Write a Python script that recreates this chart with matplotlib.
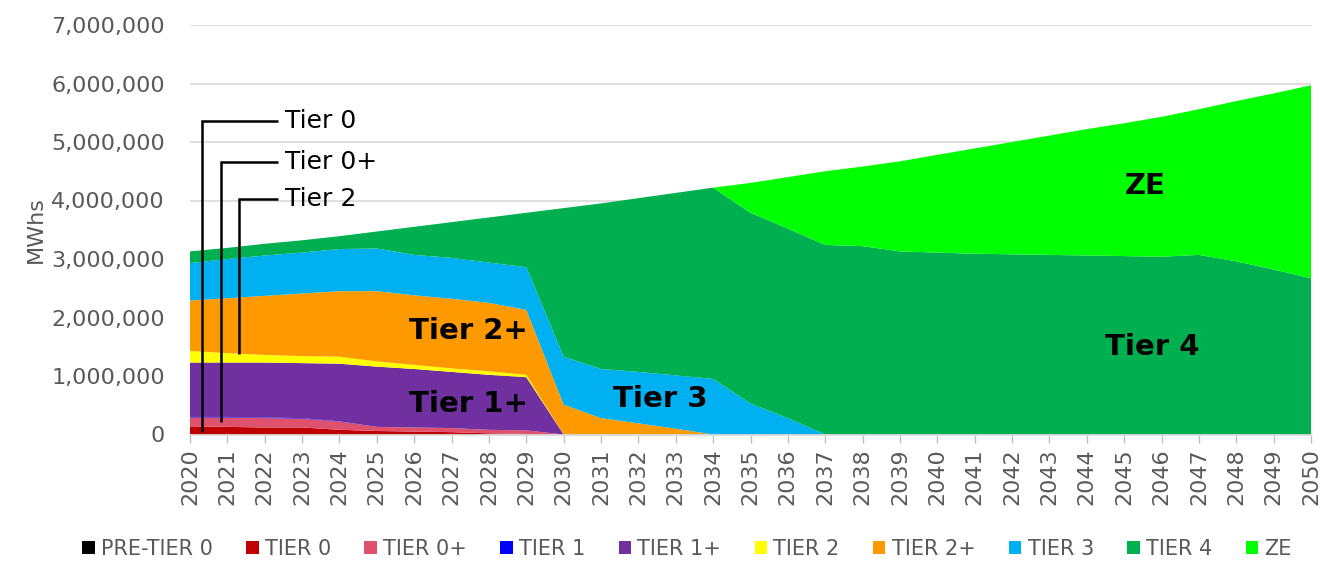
import numpy as np
import matplotlib.pyplot as plt
from matplotlib.ticker import FuncFormatter
from matplotlib.patches import Patch

# Data (millions of MWh)
years = list(range(2020, 2051))

pre_tier0 = [0.0] * 31
tier0 = [0.14, 0.13, 0.12, 0.12, 0.08, 0.06, 0.05, 0.04, 0.02, 0.01] + [0.0] * 21
tier0p = [0.15, 0.16, 0.16, 0.15, 0.14, 0.07, 0.07, 0.07, 0.06, 0.06] + [0.0] * 21
tier1 = [0.01, 0.01, 0.01, 0.01, 0.005] + [0.0] * 26
tier1p = [0.93, 0.93, 0.94, 0.94, 0.985, 1.03, 1.00, 0.96, 0.94, 0.91] + [0.0] * 21
tier2 = [0.20, 0.16, 0.13, 0.12, 0.12, 0.09, 0.07, 0.06, 0.06, 0.04] + [0.0] * 21
tier2p = [0.86, 0.94, 1.01, 1.07, 1.12, 1.20, 1.19, 1.19, 1.17, 1.11,
          0.51, 0.28, 0.19, 0.10] + [0.0] * 17
tier3 = [0.64, 0.67, 0.69, 0.70, 0.72, 0.73, 0.69, 0.70, 0.69, 0.73,
         0.82, 0.84, 0.88, 0.91, 0.95, 0.53, 0.28] + [0.0] * 14
tier4 = [0.20, 0.19, 0.20, 0.21, 0.22, 0.29, 0.48, 0.61, 0.77, 0.93,
         2.54, 2.83, 2.97, 3.12, 3.27, 3.26, 3.24, 3.24, 3.22, 3.13,
         3.11, 3.09, 3.08, 3.07, 3.06, 3.05, 3.04, 3.07, 2.96, 2.82, 2.67]
ze = [0.0] * 15 + [0.51, 0.88, 1.26, 1.36, 1.54, 1.67, 1.80, 1.92, 2.04,
                   2.16, 2.27, 2.39, 2.49, 2.74, 3.01, 3.30]

labels = ["PRE-TIER 0", "TIER 0", "TIER 0+", "TIER 1", "TIER 1+",
          "TIER 2", "TIER 2+", "TIER 3", "TIER 4", "ZE"]
colors = ["#000000", "#C00000", "#DF516D", "#0000FF", "#7030A0",
          "#FFFF00", "#FF9900", "#00B0F0", "#00B050", "#00FF00"]

series = [pre_tier0, tier0, tier0p, tier1, tier1p, tier2, tier2p, tier3, tier4, ze]
series = [np.array(s) * 1e6 for s in series]

grey = "#595959"

fig = plt.figure(figsize=(13.26, 5.62), dpi=100)
ax = fig.add_axes([190 / 1326, 1 - 434.5 / 562, (1311 - 190) / 1326, (434.5 - 25) / 562])

ax.stackplot(years, *series, colors=colors, linewidth=0)

ax.set_xlim(2020, 2050)
ax.set_ylim(0, 7e6)
ax.set_xticks(years)
ax.set_xticklabels([str(y) for y in years], rotation=90)
ax.set_yticks(np.arange(0, 7e6 + 1, 1e6))
ax.yaxis.set_major_formatter(FuncFormatter(lambda v, p: f"{int(v):,}"))
ax.tick_params(axis="x", colors="#BFBFBF", labelcolor=grey, labelsize=16,
               length=6, width=1, pad=4)
ax.tick_params(axis="y", length=0, labelcolor=grey, labelsize=16, pad=18)
ax.grid(axis="y", color="#D9D9D9", linewidth=1.2)
ax.set_axisbelow(True)
for s in ["top", "right", "left"]:
    ax.spines[s].set_visible(False)
ax.spines["bottom"].set_color("#D9D9D9")
ax.spines["bottom"].set_linewidth(1.2)
ax.set_ylabel("MWhs", color=grey, fontsize=16, labelpad=4)

# in-area labels
lab_kw = dict(ha="center", va="center", fontsize=21, fontweight="bold", color="black")
ax.text(2027.44, 1.77e6, "Tier 2+", **lab_kw)
ax.text(2027.44, 0.52e6, "Tier 1+", **lab_kw)
ax.text(2032.59, 0.61e6, "Tier 3", **lab_kw)
ax.text(2045.76, 1.50e6, "Tier 4", **lab_kw)
ax.text(2045.57, 4.24e6, "ZE", **lab_kw)

# callouts for thin layers
callouts = [("Tier 0", 2020.33, 0.04e6, 5.36e6),
            ("Tier 0+", 2020.82, 0.22e6, 4.66e6),
            ("Tier 2", 2021.31, 1.37e6, 4.02e6)]
for txt, xv, ybot, ytop in callouts:
    ax.plot([xv, xv, 2022.35], [ybot, ytop, ytop], color="black", lw=1.8,
            solid_capstyle="butt", solid_joinstyle="miter", clip_on=False)
    ax.text(2022.55, ytop, txt, ha="left", va="center", fontsize=18, color="black")

handles = [Patch(facecolor=c, edgecolor="none") for c in colors]
fig.legend(handles, labels, loc="center", bbox_to_anchor=(0.518, 1 - 549 / 562),
           ncol=10, frameon=False, fontsize=15, labelcolor=grey,
           handlelength=0.6, handleheight=0.6, handletextpad=0.3, columnspacing=1.6)

fig.savefig("out.png", dpi=100)
